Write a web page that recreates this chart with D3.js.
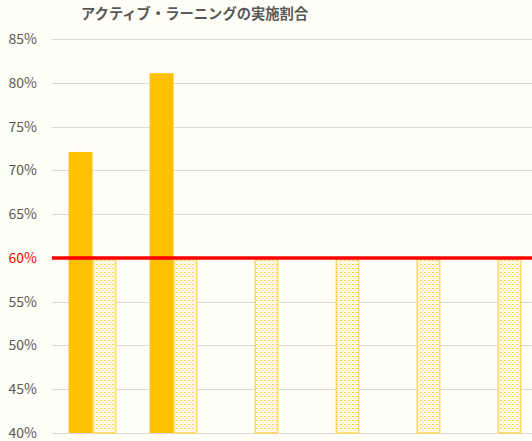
<!DOCTYPE html>
<html><head><meta charset="utf-8">
<script src="https://cdn.jsdelivr.net/npm/d3@7"></script>
<style>
html,body{margin:0;padding:0;background:#FFFEF7;}
svg{display:block;}
text{font-family:"Noto Sans CJK JP","Noto Sans",sans-serif;}
</style></head>
<body><div id="chart"></div>
<script>
const categories = ["A","B","C","D","E","F"];
const actualValues = [0.721, 0.811, null, null, null, null];
const targetValues = [0.60, 0.60, 0.60, 0.60, 0.60, 0.60];
const yTicks = [0.40, 0.45, 0.50, 0.55, 0.60, 0.65, 0.70, 0.75, 0.80, 0.85];
const referenceValue = 0.60;
const title = "アクティブ・ラーニングの実施割合";

const W = 532, H = 441;
const svg = d3.select("#chart").append("svg").attr("width", W).attr("height", H);
svg.append("rect").attr("width", W).attr("height", H).attr("fill", "#FFFEF7");

const defs = svg.append("defs");
const pat = defs.append("pattern").attr("id","dots").attr("patternUnits","userSpaceOnUse")
  .attr("width",4).attr("height",4);
pat.append("rect").attr("width",4).attr("height",4).attr("fill","#FFFAEA");
pat.append("rect").attr("x",0).attr("y",0).attr("width",2).attr("height",1).attr("fill","#FFD040");
pat.append("rect").attr("x",2).attr("y",2).attr("width",2).attr("height",1).attr("fill","#FFEBB0");

const x0 = d3.scaleBand().domain(categories).range([52, 538]).paddingInner(0.41).paddingOuter(0.205);
const x1 = d3.scaleBand().domain(["actual","target"]).range([0, x0.bandwidth()]);
const y = d3.scaleLinear().domain([0.40, 0.85]).range([433, 39]);

// gridlines
svg.append("g").selectAll("line").data(yTicks).join("line")
  .attr("x1", 52).attr("x2", W).attr("y1", d => Math.round(y(d))+0.5).attr("y2", d => Math.round(y(d))+0.5)
  .attr("stroke", "#D9D9D9").attr("stroke-width", 1);

// y axis labels
const yAxis = d3.axisLeft(y).tickValues(yTicks).tickFormat(d3.format(".0%")).tickSize(0).tickPadding(0);
const ga = svg.append("g").attr("transform","translate(37,0)").call(yAxis);
ga.select(".domain").remove();
ga.selectAll("text").attr("font-size", 14).attr("fill", d => Math.abs(d-referenceValue)<1e-9 ? "#FF0000" : "#595959")
  .attr("font-family", "'Noto Sans CJK JP','Noto Sans',sans-serif");

// target bars (pattern)
svg.append("g").selectAll("rect").data(categories.map((c,i)=>({c, v: targetValues[i]}))).join("rect")
  .attr("x", d => x0(d.c) + x1("target") + 0.75)
  .attr("y", d => y(d.v))
  .attr("width", x1.bandwidth() - 1.5)
  .attr("height", d => y(0.40) - y(d.v))
  .attr("fill", "url(#dots)")
  .attr("stroke", "#FFD966").attr("stroke-width", 1.5);

// actual bars
svg.append("g").selectAll("rect").data(categories.map((c,i)=>({c, v: actualValues[i]})).filter(d => d.v != null)).join("rect")
  .attr("x", d => x0(d.c) + x1("actual"))
  .attr("y", d => y(d.v))
  .attr("width", x1.bandwidth())
  .attr("height", d => y(0.40) - y(d.v))
  .attr("fill", "#FFC000");

// reference line
svg.append("line").attr("x1", 52).attr("x2", W).attr("y1", y(referenceValue)).attr("y2", y(referenceValue))
  .attr("stroke", "#FF0000").attr("stroke-width", 3.5);

// title
svg.append("text").attr("x", 81).attr("y", 19).attr("font-size", 14.3).attr("font-weight", "bold")
  .attr("fill", "#595959").text(title);
</script>
</body></html>
